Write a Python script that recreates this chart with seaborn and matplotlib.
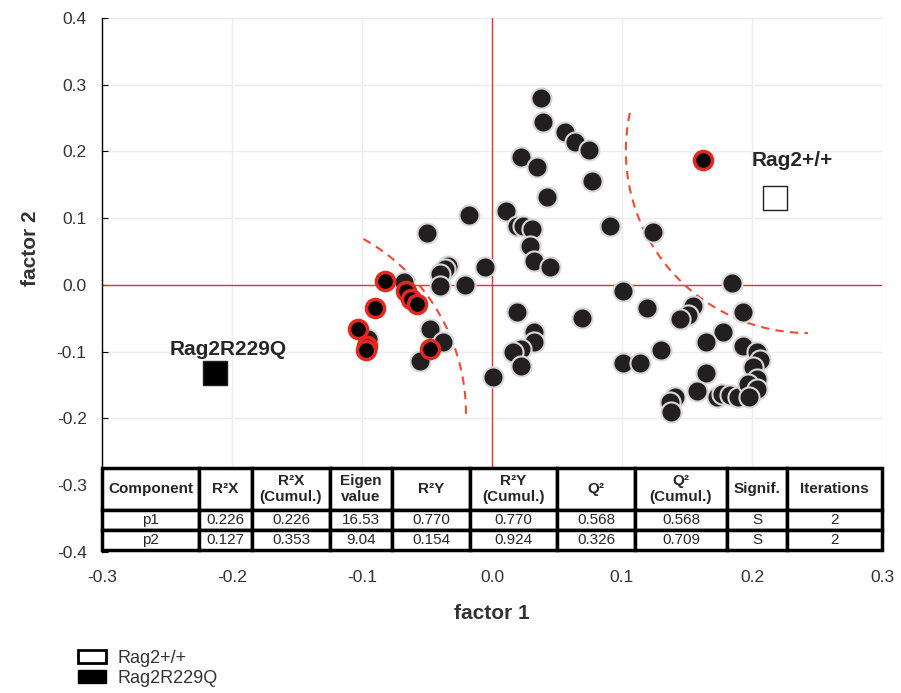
import numpy as np
import pandas as pd
import matplotlib
matplotlib.use('Agg')
import matplotlib.pyplot as plt
import seaborn as sns
from matplotlib.patches import Patch

# scores (black points)
black_x = [-0.050, -0.034, -0.036, -0.040, -0.040, -0.021, -0.018, -0.005, 0.001, -0.068,
           -0.048, -0.038, -0.055, -0.095,
           0.038, 0.039, 0.056, 0.064, 0.075, 0.022, 0.035, 0.077, 0.042, 0.011,
           0.019, 0.024, 0.031, 0.029, 0.032, 0.045, 0.091, 0.124,
           0.019, 0.032, 0.032, 0.022, 0.016, 0.022, 0.069,
           0.101, 0.119, 0.101, 0.114, 0.130, 0.185, 0.193, 0.155, 0.151, 0.145,
           0.178, 0.165, 0.193, 0.204, 0.206, 0.201, 0.204, 0.165, 0.158, 0.141,
           0.137, 0.138, 0.173, 0.177, 0.183, 0.189, 0.197, 0.204, 0.198]
black_y = [0.078, 0.028, 0.024, 0.016, -0.001, 0.000, 0.105, 0.027, -0.138, 0.004,
           -0.066, -0.085, -0.114, -0.081,
           0.280, 0.244, 0.229, 0.214, 0.202, 0.192, 0.177, 0.156, 0.132, 0.111,
           0.088, 0.088, 0.084, 0.058, 0.036, 0.027, 0.088, 0.079,
           -0.040, -0.070, -0.085, -0.096, -0.100, -0.121, -0.049,
           -0.009, -0.034, -0.117, -0.117, -0.097, 0.003, -0.040, -0.031, -0.045, -0.051,
           -0.070, -0.085, -0.091, -0.100, -0.112, -0.123, -0.141, -0.132, -0.159, -0.168,
           -0.175, -0.190, -0.168, -0.163, -0.165, -0.168, -0.148, -0.156, -0.168]

# highlighted (red ring) points
red_x = [-0.082, -0.090, -0.103, -0.096, -0.097, -0.066, -0.062, -0.058, -0.048, 0.162]
red_y = [0.006, -0.034, -0.066, -0.091, -0.097, -0.009, -0.021, -0.028, -0.096, 0.187]

# group centroids
groups = ['Rag2+/+', 'Rag2R229Q']
group_x = [0.218, -0.213]
group_y = [0.130, -0.132]

# model summary table
col_labels = ['Component', 'R²X', 'R²X\n(Cumul.)', 'Eigen\nvalue', 'R²Y', 'R²Y\n(Cumul.)',
              'Q²', 'Q²\n(Cumul.)', 'Signif.', 'Iterations']
row_p1 = ['p1', '0.226', '0.226', '16.53', '0.770', '0.770', '0.568', '0.568', 'S', '2']
row_p2 = ['p2', '0.127', '0.353', '9.04', '0.154', '0.924', '0.326', '0.709', 'S', '2']

xticks = [-0.3, -0.2, -0.1, 0.0, 0.1, 0.2, 0.3]
yticks = [-0.4, -0.3, -0.2, -0.1, 0.0, 0.1, 0.2, 0.3, 0.4]

df_black = pd.DataFrame({'x': black_x, 'y': black_y})
df_red = pd.DataFrame({'x': red_x, 'y': red_y})
df_grp = pd.DataFrame({'x': group_x, 'y': group_y, 'group': groups})

sns.set_style('whitegrid')
plt.rcParams['font.family'] = ['Liberation Sans', 'DejaVu Sans']
plt.rcParams['axes.unicode_minus'] = False

fig = plt.figure(figsize=(9.01, 6.93), dpi=100)
ax = fig.add_axes([0.1132, 0.2035, 0.8657, 0.7706])

ax.axhline(0, color='#ee3030', lw=1, zorder=1)
ax.axvline(0, color='#ee3030', lw=1, zorder=1)

# dashed boundary arcs
t = np.radians(np.linspace(0, 62, 100))
ax.plot(-0.174 + 0.154 * np.cos(t), -0.193 + 0.300 * np.sin(t),
        color='#f04a35', lw=1.5, ls=(0, (4, 3)), zorder=2)
t = np.radians(np.linspace(168, 270, 100))
ax.plot(0.243 + 0.140 * np.cos(t), 0.201 + 0.273 * np.sin(t),
        color='#f04a35', lw=1.5, ls=(0, (4, 3)), zorder=2)

sns.scatterplot(data=df_black, x='x', y='y', s=210, color='#231f20',
                edgecolor='#d8d8d8', linewidth=1.5, ax=ax, zorder=3, legend=False)
sns.scatterplot(data=df_red, x='x', y='y', s=170, color='#050505',
                edgecolor='#e4281f', linewidth=2.5, ax=ax, zorder=4, legend=False)
sns.scatterplot(data=df_grp, x='x', y='y', hue='group', palette=['white', 'black'],
                marker='s', s=300, edgecolor='#222222', linewidth=1, ax=ax,
                zorder=4, legend=False)

ax.text(0.231, 0.186, 'Rag2+/+', fontsize=15, fontweight='bold', ha='center', va='center')
ax.text(-0.203, -0.096, 'Rag2R229Q', fontsize=15, fontweight='bold', ha='center', va='center')

ax.set_xlim(-0.3, 0.3)
ax.set_ylim(-0.4, 0.4)
ax.set_xticks(xticks)
ax.set_yticks(yticks)
ax.set_xticklabels([f'{v:.1f}' for v in xticks])
ax.set_yticklabels([f'{v:.1f}' for v in yticks])
ax.tick_params(axis='x', labelsize=12.5, pad=13, length=0, labelcolor='#333333')
ax.tick_params(axis='y', labelsize=12.5, pad=11, direction='in', length=4, left=True,
               color='black', labelcolor='#333333')
ax.grid(True, color='#ececec', lw=1)
for side in ['top', 'right', 'bottom']:
    ax.spines[side].set_visible(False)
ax.spines['left'].set_color('black')
ax.spines['left'].set_linewidth(1)

ax.set_xlabel('factor 1', fontsize=15, fontweight='bold', color='#333333')
ax.set_ylabel('factor 2', fontsize=15, fontweight='bold', color='#333333')
ax.xaxis.set_label_coords(0.5, -0.097)
ax.yaxis.set_label_coords(-0.0795, 0.569)

col_w = [97, 53, 78, 62, 78, 87, 78, 92, 60, 95]
tbl = ax.table(cellText=[row_p1, row_p2], colLabels=col_labels,
               colWidths=[w / sum(col_w) for w in col_w], cellLoc='center',
               bbox=[0, 0.004, 1, 0.154])
tbl.set_zorder(6)
tbl.auto_set_font_size(False)
tbl.set_fontsize(11)
for (r, c), cell in tbl.get_celld().items():
    cell.set_linewidth(2.5)
    cell.set_edgecolor('black')
    cell.set_facecolor('white')
    if r == 0:
        cell.set_height(cell.get_height() * 2.1)
        cell.get_text().set_fontweight('bold')

handles = [Patch(facecolor='white', edgecolor='black', lw=2),
           Patch(facecolor='black', edgecolor='black', lw=1)]
fig.legend(handles, groups, loc='upper left', bbox_to_anchor=(0.076, 0.075),
           frameon=False, fontsize=13, handlelength=1.6, handleheight=0.7,
           labelspacing=0.15, borderpad=0, handletextpad=0.6, labelcolor='#333333')

fig.savefig('out.png', dpi=100)
